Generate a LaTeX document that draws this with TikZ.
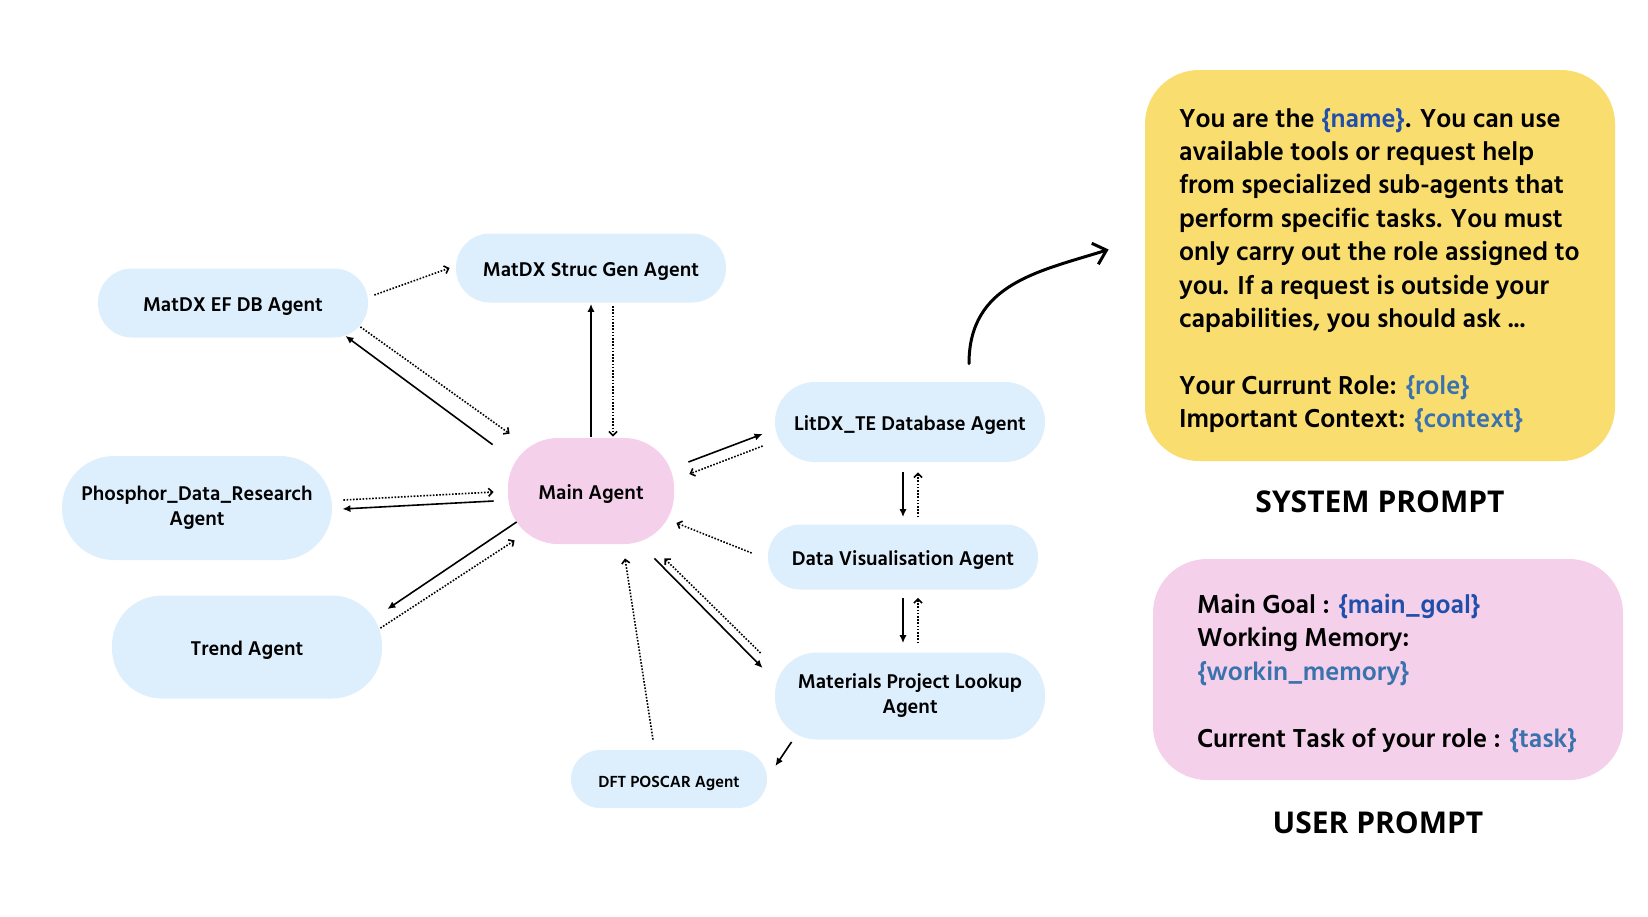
\documentclass[tikz,border=0pt]{standalone}
\usepackage{fontspec}
\setmainfont{Hind Siliguri}
\newfontfamily\titlefont{Open Sans}
\usetikzlibrary{positioning}
\usetikzlibrary{arrows.meta}

\definecolor{agentblue}{HTML}{DDEEFC}
\definecolor{mainpink}{HTML}{F5D0EA}
\definecolor{sysyellow}{HTML}{F9DD6E}
\definecolor{varblue}{HTML}{1F4FAA}
\definecolor{varblueb}{HTML}{3A72AE}

\tikzset{
  agent/.style={fill=agentblue, rounded corners=17pt, minimum width=135pt, minimum height=34.5pt,
    align=center, inner sep=2pt, font=\fontsize{10.2}{12.5}\selectfont\bfseries,
    execute at begin node={\rule{0pt}{10.4pt}}},
  solidarrow/.style={-{Latex[length=4pt,width=3.6pt]}, line width=0.8pt},
  dotarrow/.style={-{Straight Barb[length=2pt,width=4pt]}, line width=0.8pt, dash pattern=on 0.8pt off 0.8pt},
  promptbox/.style={rounded corners=27pt, minimum width=235pt, inner sep=0pt},
  prompttext/.style={anchor=north west, align=left, inner sep=0pt, font=\fontsize{13.3}{16.7}\selectfont\bfseries},
  titletext/.style={inner sep=0pt, font=\titlefont\fontsize{15}{18}\selectfont\bfseries},
}

\begin{document}
\begin{tikzpicture}[x=0.5pt,y=-0.5pt]
  \useasboundingbox (0,0) rectangle (1648,916);

  % agents
  \node[agent] (efdb) at (233,303) {MatDX EF DB Agent};
  \node[agent] (strucgen) at (591,268) {MatDX Struc Gen Agent};
  \node[agent, minimum height=52pt, rounded corners=26pt] (phosphor) at (197,508) {Phosphor\_Data\_Research\\Agent};
  \node[agent, minimum height=51.5pt, rounded corners=25pt] (trend) at (247,647) {Trend Agent};
  \node[agent, fill=mainpink, minimum width=83pt, minimum height=53pt, rounded corners=25pt] (main) at (591,491) {Main Agent};
  \node[agent, minimum height=40pt, rounded corners=20pt] (litdx) at (910,422) {LitDX\_TE Database Agent};
  \node[agent, minimum height=32.5pt, rounded corners=16pt] (datavis) at (903,557) {Data Visualisation Agent};
  \node[agent, minimum height=43.5pt, rounded corners=21pt] (matproj) at (910,696) {Materials Project Lookup\\Agent};
  \node[agent, minimum width=98pt, minimum height=29pt, rounded corners=14.5pt,
        font=\fontsize{8.25}{10}\selectfont\bfseries, execute at begin node={\rule{0pt}{8.4pt}}] (dft) at (669,779) {DFT POSCAR Agent};

  % connections
  \draw[dotarrow] ([shift={(6,-8)}]efdb.east) -- ([shift={(-6,0)}]strucgen.west);
  \draw[dotarrow] ([shift={(-8,-11)}]efdb.south east) -- ([shift={(2,-4)}]main.north west);
  \draw[solidarrow] ([shift={(-15,7)}]main.north west) -- ([shift={(-23,-2)}]efdb.south east);
  \draw[solidarrow] ([shift={(0,-1)}]main.north) -- ([shift={(0,1)}]strucgen.south);
  \draw[dotarrow] ([shift={(22,3)}]strucgen.south) -- ([shift={(22,-1)}]main.north);
  \draw[dotarrow] ([shift={(11,-8)}]phosphor.east) -- ([shift={(-14,1)}]main.west);
  \draw[solidarrow] ([shift={(-14,10)}]main.west) -- ([shift={(10,1)}]phosphor.east);
  \draw[solidarrow] ([shift={(9,31)}]main.west) -- ([shift={(5,14)}]trend.north east);
  \draw[dotarrow] ([shift={(-2,33)}]trend.north east) -- ([shift={(7,-4)}]main.south west);
  \draw[solidarrow] ([shift={(14,-29)}]main.east) -- ([shift={(-12,12)}]litdx.west);
  \draw[dotarrow] ([shift={(-12,24)}]litdx.west) -- ([shift={(15,-17)}]main.east);
  \draw[solidarrow] ([shift={(-7,10)}]litdx.south) -- ([shift={(0,-7)}]datavis.north);
  \draw[dotarrow] ([shift={(15,-7)}]datavis.north) -- ([shift={(8,10)}]litdx.south);
  \draw[dotarrow] ([shift={(-16,-4)}]datavis.west) -- ([shift={(2,32)}]main.east);
  \draw[solidarrow] ([shift={(0,8)}]datavis.south) -- ([shift={(-7,-9)}]matproj.north);
  \draw[dotarrow] ([shift={(8,-9)}]matproj.north) -- ([shift={(15,8)}]datavis.south);
  \draw[solidarrow] ([shift={(-20,14)}]main.south east) -- ([shift={(-12,-28)}]matproj.west);
  \draw[dotarrow] ([shift={(-14,-43)}]matproj.west) -- ([shift={(-10,14)}]main.south east);
  \draw[dotarrow] ([shift={(-16,-10)}]dft.north) -- ([shift={(34,14)}]main.south);
  \draw[solidarrow] ([shift={(17,2)}]matproj.south west) -- ([shift={(8,-13)}]dft.east);

  % prompts
  \node[promptbox, fill=sysyellow, minimum height=195.5pt] (sysbox) at (1380,265.5) {};
  \node[prompttext] (systext) at ([shift={(34,38)}]sysbox.north west)
    {You are the \textcolor{varblue}{\{name\}}. You can use\\
     available tools or request help\\
     from specialized sub-agents that\\
     perform specific tasks. You must\\
     only carry out the role assigned to\\
     you. If a request is outside your\\
     capabilities, you should ask ...\\[16.7pt]
     Your Currunt Role: \textcolor{varblueb}{\{role\}}\\
     Important Context: \textcolor{varblueb}{\{context\}}};
  \node[titletext, below=14.5pt of sysbox] (systitle) {SYSTEM PROMPT};

  \node[promptbox, fill=mainpink, minimum height=110.5pt] (userbox) at (1388,669.5) {};
  \node[prompttext] (usertext) at ([shift={(44,35)}]userbox.north west)
    {Main Goal : \textcolor{varblue}{\{main\_goal\}}\\
     Working Memory:\\
     \textcolor{varblueb}{\{workin\_memory\}}\\[16.7pt]
     Current Task of your role : \textcolor{varblueb}{\{task\}}};
  \node[titletext, below=15.5pt of userbox, xshift=-5pt] (usertitle) {USER PROMPT};

  \draw[line width=1.5pt, line cap=round, -{Straight Barb[length=6pt,width=11pt]}]
    ([shift={(59,-18)}]litdx.north) .. controls +(0,-80) and +(-70,22) .. ([shift={(-36,-16)}]sysbox.west);
\end{tikzpicture}
\end{document}
